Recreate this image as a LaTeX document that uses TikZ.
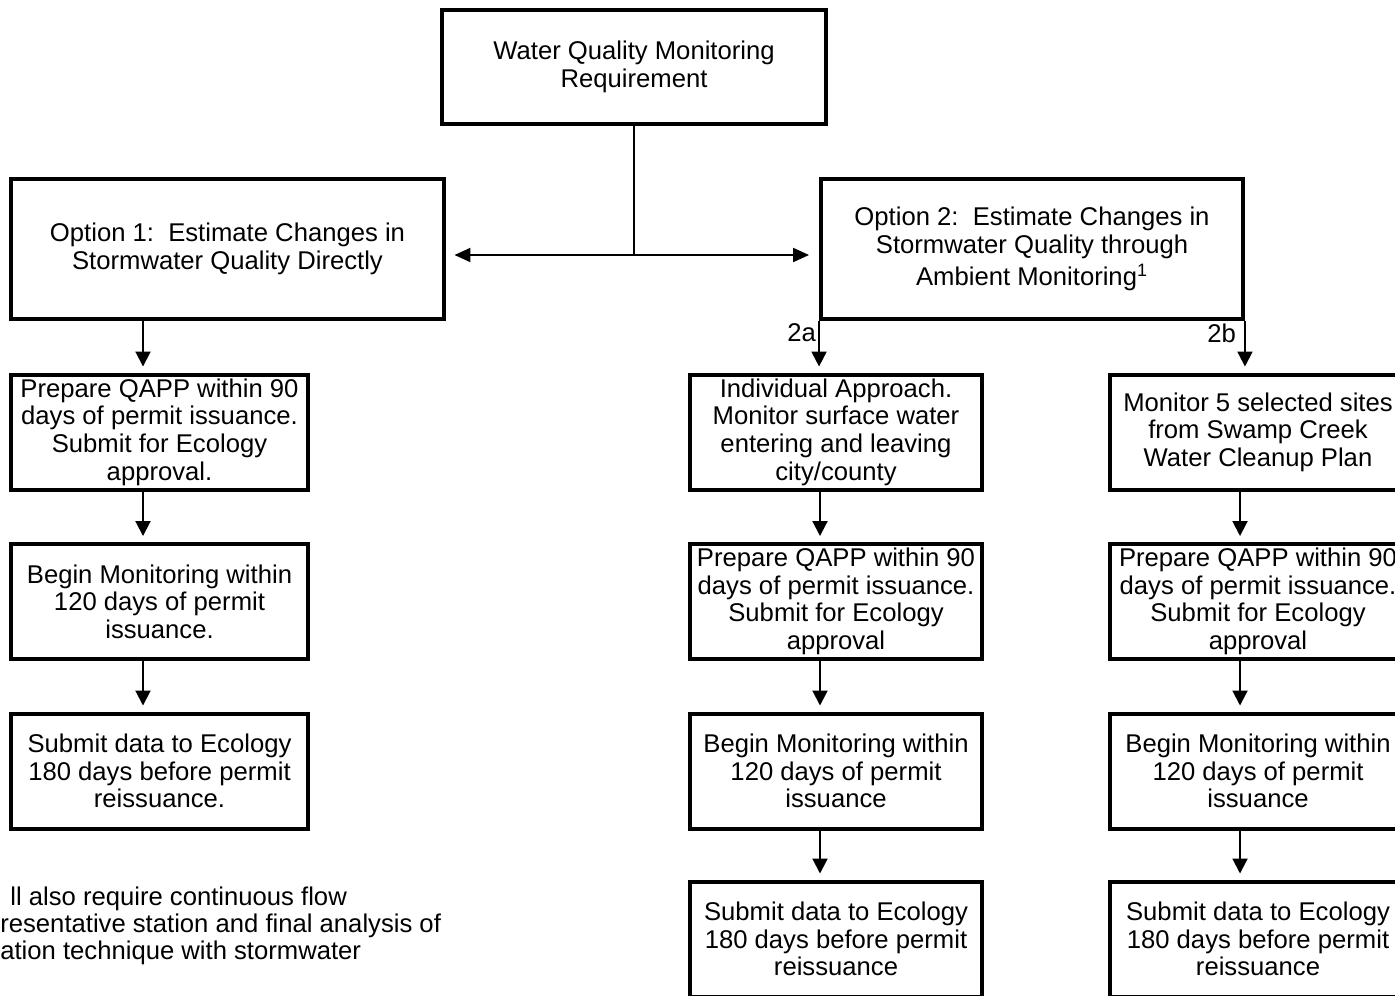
\documentclass[tikz,border=0pt]{standalone}
\usepackage{fontspec}
\setmainfont{Liberation Sans}
\usepackage{tikz}
\usetikzlibrary{positioning,arrows.meta,calc}
\newcommand{\flowfont}{\fontsize{14.6}{15.7}\selectfont}

\begin{document}
\begin{tikzpicture}[x=0.02cm, y=-0.02cm,
  box/.style={draw, line width=0.08cm, align=center, inner sep=0pt, font=\flowfont},
  colbox/.style={box, minimum height=2.3cm},
  conn/.style={line width=0.04cm},
  arr/.style={conn, -{Triangle[length=0.3cm, width=0.3cm]}, shorten >=0.12cm},
  lbl/.style={font=\flowfont, inner sep=1pt}]
\useasboundingbox (0,0) rectangle (1395,995);
\clip (0,0) rectangle (1395,995);
% top
\node[box, minimum width=7.68cm, minimum height=2.3cm] (req) at (634,67) {Water Quality Monitoring\\ Requirement};
\node[box, minimum width=8.66cm, minimum height=2.8cm] (opt1) at (227.5,249) {Option 1:\ \ Estimate Changes in\\ Stormwater Quality Directly};
\node[box, minimum width=8.44cm, minimum height=2.8cm] (opt2) at (1032,249) {Option 2:\ \ Estimate Changes in\\ Stormwater Quality through\\[3pt] Ambient Monitoring\textsuperscript{1}};
\coordinate (hub) at (634,255);
\draw[conn] (req.south) -- (hub);
\draw[conn, {Triangle[length=0.32cm, width=0.28cm]}-{Triangle[length=0.32cm, width=0.28cm]}, shorten <=0.17cm, shorten >=0.2cm] (opt1.east |- hub) -- (opt2.west |- hub);
% left column
\coordinate (xl) at (143,0);
\node[colbox, minimum width=5.94cm] (l1) at (159.5,432) {Prepare QAPP within 90\\ days of permit issuance.\\ Submit for Ecology\\ approval.};
\node[colbox, minimum width=5.94cm] (l2) at (159.5,601.5) {Begin Monitoring within\\ 120 days of permit\\ issuance.};
\node[colbox, minimum width=5.94cm] (l3) at (159.5,771) {Submit data to Ecology\\ 180 days before permit\\ reissuance.};
\draw[arr] (opt1.south -| xl) -- (l1.north -| xl);
\foreach \a/\b in {l1/l2,l2/l3} \draw[arr] (\a.south -| xl) -- (\b.north -| xl);
% middle column (2a)
\coordinate (xm) at (820,0);
\node[colbox, minimum width=5.84cm] (m1) at (836,432) {Individual Approach.\\ Monitor surface water\\ entering and leaving\\ city/county};
\node[colbox, minimum width=5.84cm] (m2) at (836,601.5) {Prepare QAPP within 90\\ days of permit issuance.\\ Submit for Ecology\\ approval};
\node[colbox, minimum width=5.84cm] (m3) at (836,771) {Begin Monitoring within\\ 120 days of permit\\ issuance};
\node[colbox, minimum width=5.84cm] (m4) at (836,939) {Submit data to Ecology\\ 180 days before permit\\ reissuance};
\draw[arr] (opt2.south west) -- (opt2.south west |- m1.north);
\node[lbl, anchor=east] (l2a) at (818,333) {2a};
\foreach \a/\b in {m1/m2,m2/m3,m3/m4} \draw[arr] (\a.south -| xm) -- (\b.north -| xm);
% right column (2b)
\coordinate (xr) at (1240,0);
\node[colbox, minimum width=5.92cm] (r1) at (1258,432) {Monitor 5 selected sites\\ from Swamp Creek\\ Water Cleanup Plan};
\node[colbox, minimum width=5.92cm] (r2) at (1258,601.5) {Prepare QAPP within 90\\ days of permit issuance.\\ Submit for Ecology\\ approval};
\node[colbox, minimum width=5.92cm] (r3) at (1258,771) {Begin Monitoring within\\ 120 days of permit\\ issuance};
\node[colbox, minimum width=5.92cm] (r4) at (1258,939) {Submit data to Ecology\\ 180 days before permit\\ reissuance};
\draw[arr] (opt2.south east) -- (opt2.south east |- r1.north);
\node[lbl, anchor=east] (l2b) at (1238,333) {2b};
\foreach \a/\b in {r1/r2,r2/r3,r3/r4} \draw[arr] (\a.south -| xr) -- (\b.north -| xr);
% footnote
\node[lbl, anchor=base west, inner sep=0pt] (foot1) at (10,905) {ll also require continuous flow};
\node[lbl, anchor=base west, inner sep=0pt] (foot2) at (0,932) {resentative station and final analysis of};
\node[lbl, anchor=base west, inner sep=0pt] (foot3) at (0,959) {ation technique with stormwater};
\end{tikzpicture}
\end{document}
